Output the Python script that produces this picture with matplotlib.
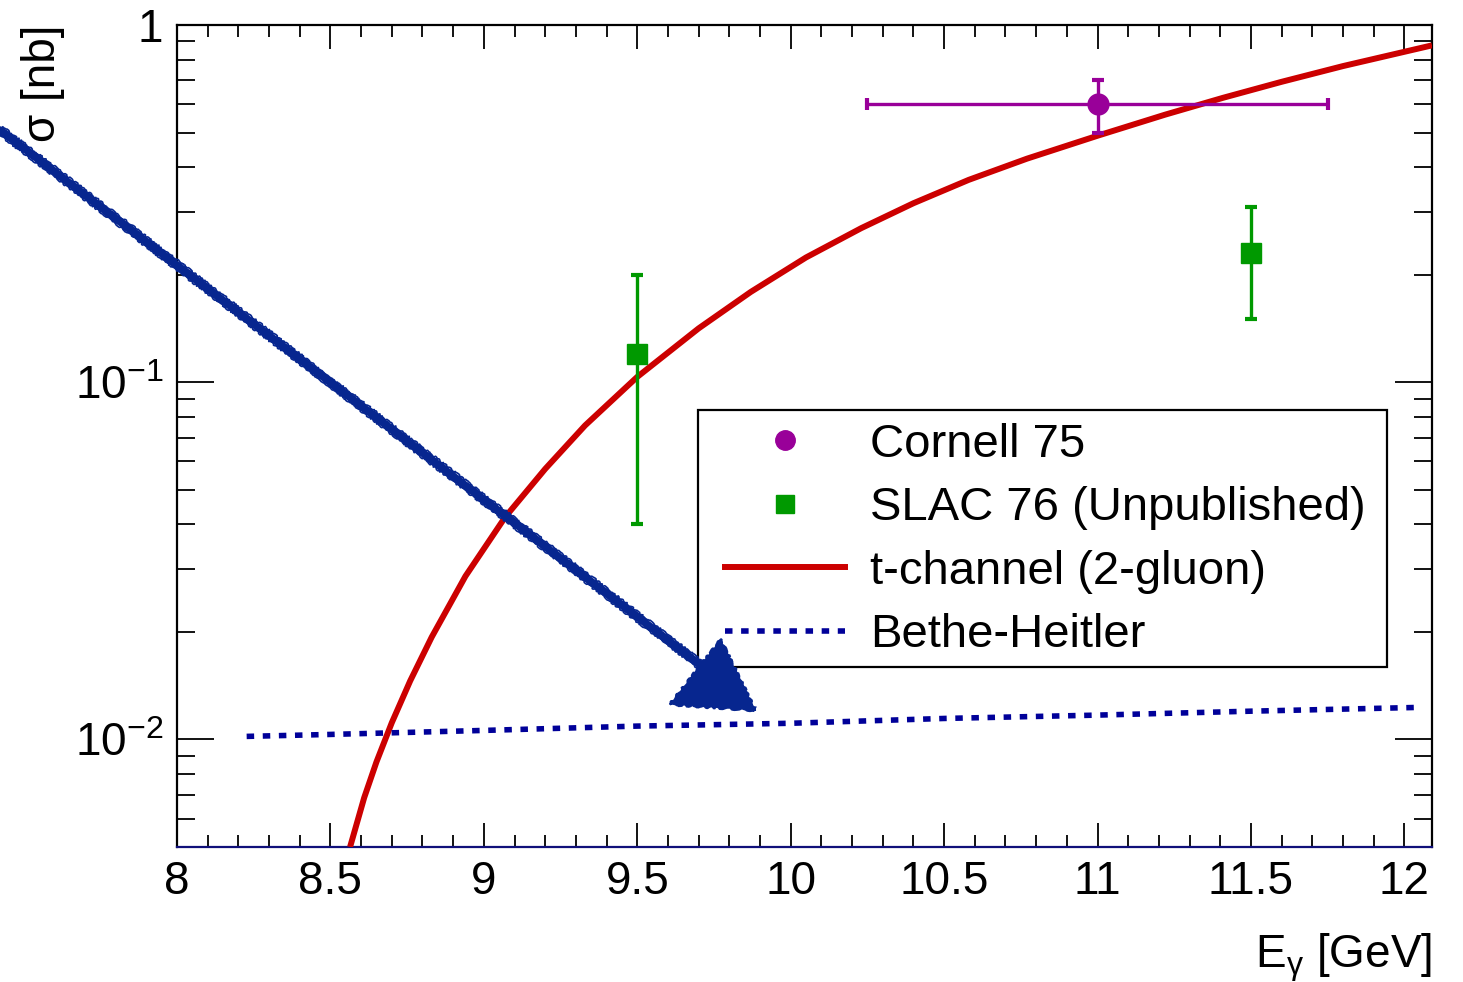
import matplotlib
matplotlib.use('Agg')
import matplotlib.pyplot as plt
from matplotlib.ticker import FixedLocator, FixedFormatter, MultipleLocator, LogLocator, NullFormatter
from matplotlib.lines import Line2D
from matplotlib.patches import Polygon, Rectangle
from matplotlib.transforms import ScaledTranslation

plt.rcParams['font.family'] = ['Liberation Sans', 'DejaVu Sans']
plt.rcParams['mathtext.fontset'] = 'custom'
plt.rcParams['mathtext.rm'] = 'Liberation Sans'
plt.rcParams['mathtext.it'] = 'Liberation Sans'
plt.rcParams['mathtext.sf'] = 'Liberation Sans'

# ---------------- data ----------------
cornell_x = [11.0]
cornell_y = [0.60]
cornell_xerr = [0.75]
cornell_yerr = [0.10]

slac_x = [9.5, 11.5]
slac_y = [0.120, 0.230]
slac_yerr = [0.080, 0.080]

tchan_x = [8.564, 8.61, 8.65, 8.70, 8.76, 8.83, 8.94, 9.07, 9.20, 9.33,
           9.50, 9.70, 9.87, 10.05, 10.23, 10.40, 10.58, 10.77, 11.00,
           11.22, 11.41, 11.60, 11.80, 12.09]
tchan_y = [0.00500, 0.00687, 0.00865, 0.01114, 0.01459, 0.01934, 0.02864, 0.04198, 0.05720, 0.07570,
           0.1035, 0.1415, 0.1790, 0.2235, 0.2700, 0.3170, 0.3685, 0.4225, 0.4898,
           0.5610, 0.6258, 0.6934, 0.7674, 0.8770]

bh_x = [8.227, 8.5, 9.0, 9.5, 10.0, 10.5, 11.0, 11.5, 12.055]
bh_y = [0.0102, 0.01033, 0.0106, 0.0109, 0.0111, 0.01145, 0.0117, 0.0120, 0.0123]

legend_labels = ['Cornell 75', 'SLAC 76 (Unpublished)', 't-channel (2-gluon)', 'Bethe-Heitler']

x_tick_values = [8, 8.5, 9, 9.5, 10, 10.5, 11, 11.5, 12]
x_tick_labels = ['8', '8.5', '9', '9.5', '10', '10.5', '11', '11.5', '12']
y_tick_values = [0.01, 0.1, 1]
y_tick_labels = [r'$\mathregular{10^{-2}}$', r'$\mathregular{10^{-1}}$', '1']

# annotation arrow (data coordinates)
arrow_start = (7.423, 0.508)
arrow_end = (9.704, 0.0162)
arrow_head = [(9.772, 0.01905), (9.606, 0.01253), (9.886, 0.01205)]

# ---------------- style ----------------
c_cornell = '#990099'
c_slac = '#009900'
c_red = '#cc0000'
c_blue = '#000099'
c_arrow = '#07268f'
FS = 33
FS_LEG = 34

fig = plt.figure(figsize=(14.63, 9.82), dpi=100)
ax = fig.add_axes([177 / 1463, 1 - 847 / 982, (1432 - 177) / 1463, (847 - 25) / 982])
ax.set_yscale('log')
ax.set_xlim(8, 12.09)
ax.set_ylim(0.005, 1)

ax.plot(tchan_x, tchan_y, color=c_red, lw=4.3, solid_capstyle='butt', solid_joinstyle='round', zorder=3)
ax.plot(bh_x, bh_y, color=c_blue, lw=4.0, dashes=(1.35, 1.55), dash_capstyle='butt', zorder=3)

ax.errorbar(cornell_x, cornell_y, xerr=cornell_xerr, yerr=cornell_yerr, fmt='o', color=c_cornell,
            ms=15, elinewidth=2.4, capsize=4, capthick=3, zorder=4)
ax.errorbar(slac_x, slac_y, yerr=slac_yerr, fmt='s', color=c_slac,
            ms=14.5, elinewidth=2.4, capsize=4.5, capthick=3, zorder=4)

# ticks
ax.xaxis.set_major_locator(FixedLocator(x_tick_values))
ax.xaxis.set_major_formatter(FixedFormatter(x_tick_labels))
ax.xaxis.set_minor_locator(MultipleLocator(0.1))
ax.yaxis.set_major_locator(FixedLocator(y_tick_values))
ax.yaxis.set_major_formatter(FixedFormatter(y_tick_labels))
ax.yaxis.set_minor_locator(LogLocator(base=10, subs=[2, 3, 4, 5, 6, 7, 8, 9], numticks=20))
ax.yaxis.set_minor_formatter(NullFormatter())

ax.tick_params(which='both', direction='in', top=True, right=True, width=1.3, labelsize=FS)
ax.xaxis.set_tick_params(which='major', length=17.5, pad=9)
ax.xaxis.set_tick_params(which='minor', length=8.7)
ax.yaxis.set_tick_params(which='major', length=26.5, pad=10)
ax.yaxis.set_tick_params(which='minor', length=13)
for s in ax.spines.values():
    s.set_linewidth(1.6)
ax.spines['bottom'].set_color('#10107a')

ax.text(-0.107, 1.0, 'σ [nb]', rotation=90, ha='center', va='top', fontsize=FS,
        transform=ax.transAxes)
ax.text(1.0, -0.135, r'$\mathregular{E_{γ}}$ [GeV]', ha='right', va='center', fontsize=FS,
        transform=ax.transAxes)

# legend (frame drawn separately)
box = Rectangle(((698 - 177) / 1255, (847 - 667) / 822), (1387 - 698) / 1255, (667 - 410) / 822,
                transform=ax.transAxes, facecolor='white', edgecolor='black', lw=1.6, zorder=5)
ax.add_patch(box)
handles = [
    Line2D([], [], marker='o', ls='none', color=c_cornell, ms=14),
    Line2D([], [], marker='s', ls='none', color=c_slac, ms=13.5),
    Line2D([], [], color=c_red, lw=4.3),
    Line2D([], [], color=c_blue, lw=4.0, dashes=(1.35, 1.55), dash_capstyle='butt'),
]
leg = ax.legend(handles, legend_labels, loc='upper left',
                bbox_to_anchor=((725 - 177) / 1255, (847 - 423) / 822),
                borderaxespad=0, borderpad=0, fontsize=FS_LEG, frameon=False,
                handlelength=2.55, handletextpad=0.52, labelspacing=0.41)
leg.set_zorder(5.5)

# hand-drawn arrow: a bundle of thin strokes
strokes = [(5.5, 0.0, 0.0, None), (1.6, 1.2, 1.6, (0.5, 10, 6)), (1.6, -1.2, -1.6, (0.5, 10, 6)),
           (1.2, 2.0, 2.4, (0.8, 8, 8)), (1.2, -1.8, -2.4, (0.8, 8, 8)), (1.0, 0.5, -0.6, (0.6, 12, 5))]
for lw, dx, dy, sk in strokes:
    tr = ax.transData + ScaledTranslation(dx / 72, dy / 72, fig.dpi_scale_trans)
    ln = Line2D([arrow_start[0], arrow_end[0]], [arrow_start[1], arrow_end[1]],
                color=c_arrow, lw=lw, solid_capstyle='round', clip_on=False, zorder=6,
                transform=tr)
    if sk is not None:
        ln.set_sketch_params(*sk)
    ax.add_line(ln)
tri = Polygon(arrow_head, closed=True, facecolor=c_arrow, edgecolor=c_arrow, lw=1.5,
              clip_on=False, zorder=6)
tri.set_sketch_params(1.0, 12, 4)
ax.add_patch(tri)

fig.savefig('out.png', dpi=100)
